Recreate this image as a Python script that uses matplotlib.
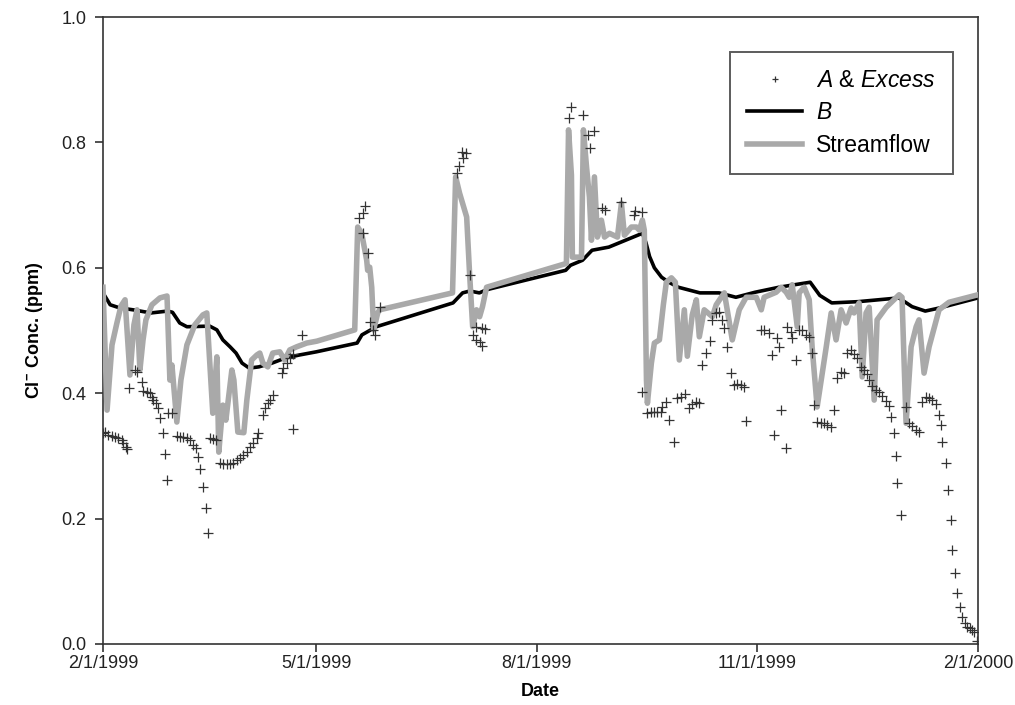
import numpy as np
import pandas as pd
import matplotlib
matplotlib.use("Agg")
import matplotlib.pyplot as plt

plt.rcParams['font.family'] = ['Liberation Sans', 'DejaVu Sans']
plt.rcParams['mathtext.fontset'] = 'custom'
plt.rcParams['mathtext.rm'] = 'Liberation Sans'
plt.rcParams['mathtext.it'] = 'Liberation Sans:italic'
plt.rcParams['mathtext.bf'] = 'Liberation Sans:bold'

# day offsets from 2/1/1999
b_days = [0, 3, 7, 12.5, 20, 27, 29, 32, 35, 44.5, 47.5, 50, 53, 55.5, 58, 61, 65, 70.5, 76, 82, 89,
          106, 108, 114, 146, 150, 153, 157, 160, 193, 195, 200, 204, 211, 218, 225, 226.5, 228,
          230, 233, 236, 240, 249, 257, 264, 272, 282, 295, 299, 304, 315, 332, 337.5, 343, 349, 365]
b_vals = [0.560, 0.541, 0.536, 0.533, 0.528, 0.531, 0.529, 0.512, 0.506, 0.507, 0.501, 0.485, 0.474,
          0.464, 0.448, 0.440, 0.442, 0.448, 0.456, 0.461, 0.466,
          0.480, 0.493, 0.506, 0.544, 0.560, 0.563, 0.560, 0.565, 0.596, 0.604, 0.612, 0.628, 0.633,
          0.644, 0.655, 0.640, 0.618, 0.600,
          0.585, 0.577, 0.569, 0.560, 0.560, 0.553, 0.561, 0.569, 0.577, 0.556, 0.544, 0.546, 0.552,
          0.538, 0.531, 0.536, 0.552]

s_days = [0, 1.7, 3.75, 5.8, 7.5, 9.2, 11.25, 12.9, 14.2, 15.4, 16.7, 17.9, 20.4, 23.75, 26.7,
          27.9, 28.75, 30.8, 32.5, 35, 38.3, 41.7, 43.3, 45.8, 47.5, 48.3, 50, 51.25, 53.75, 54.6,
          56.25, 58.75, 60, 62, 64.2, 65.4, 66.7, 68.75, 70.8, 73.75, 75.8, 77.9, 80.8, 85, 89.2,
          105, 106.25, 107.9, 110, 110.4, 111.25, 112.1, 112.9, 114.6, 115.4,
          145.8, 147.1, 148.75, 150, 151.7, 152.9, 154.2, 155.8, 157.1, 158.3, 160,
          193.3, 194.2, 195.4, 195.8, 199.6, 200.4, 201.7, 202.9, 203.75, 205, 206.25, 207.9,
          209.2, 211.25, 214.6, 216.25, 217.5, 220.4, 222.5, 223.75, 225, 225.8,
          226.7, 227.1, 228.75, 230, 232.1, 233.75, 235, 237.1, 238.75, 240.4, 242.5, 243.75,
          245.8, 247.5, 248.75, 250.8, 254.2, 255.8, 257.9, 259.2, 262.5, 265.4, 268.3, 272.5,
          274.6, 275.8, 280.8, 282.9, 285, 286.25, 287.5, 289.6, 290.4, 292.5, 294.6, 295.8,
          297.9, 299.6, 301.7, 303.75, 305.8, 307.9, 310, 312.1, 313.3, 315.4, 316.7, 318.3,
          319.6, 321.7, 322.9, 326.7, 332.1, 333.3, 335, 337.1, 339.2, 340.4, 342.5, 344.6,
          348.75, 352.9, 365]
s_vals = [0.569, 0.373, 0.477, 0.512, 0.539, 0.549, 0.429, 0.509, 0.533, 0.437, 0.485, 0.517,
          0.541, 0.552, 0.555,
          0.421, 0.445, 0.354, 0.421, 0.477, 0.509, 0.525, 0.528, 0.368, 0.458, 0.306, 0.381,
          0.357, 0.437, 0.421,
          0.338, 0.337, 0.389, 0.453, 0.461, 0.464, 0.448, 0.442, 0.464, 0.466, 0.453, 0.469,
          0.474, 0.480, 0.483,
          0.501, 0.665, 0.655, 0.612, 0.596, 0.601, 0.569, 0.501, 0.528, 0.533,
          0.560, 0.745, 0.719, 0.703, 0.681, 0.592, 0.506, 0.533, 0.522, 0.538, 0.569,
          0.607, 0.820, 0.748, 0.617, 0.617, 0.820, 0.761, 0.713, 0.644, 0.745, 0.649, 0.676,
          0.649, 0.655, 0.649, 0.703, 0.652, 0.665, 0.665, 0.660, 0.676, 0.660,
          0.421, 0.384, 0.448, 0.480, 0.485, 0.541, 0.577, 0.584, 0.577, 0.453, 0.533, 0.459,
          0.525, 0.549, 0.490, 0.533, 0.522, 0.541, 0.553, 0.560, 0.485, 0.533, 0.553, 0.553,
          0.533, 0.553, 0.561, 0.569, 0.561, 0.553, 0.573, 0.506, 0.560, 0.569, 0.549, 0.474,
          0.378, 0.421, 0.474, 0.528, 0.485, 0.533, 0.512, 0.536, 0.528, 0.544, 0.426, 0.528,
          0.537, 0.389, 0.517, 0.537, 0.557, 0.553, 0.352, 0.474, 0.506, 0.517, 0.432, 0.474,
          0.533, 0.545, 0.557]

a_days = [0, 1, 2.1, 3.75, 5, 6.25, 7.9, 8.3, 9.6, 10, 10.8, 13.3, 14.2, 16.25, 16.7, 18.3, 19.6,
          20.4, 20.8, 22.1, 22.9, 23.75, 25, 25.8, 26.7, 27.1, 28.75, 30.8, 32.1, 33.3, 35, 36.25,
          37.5, 38.75, 39.6, 40.4, 41.7, 42.9, 43.75, 44.6, 45.8, 47.1, 48.75, 50, 51.7, 52.9,
          54.2, 55.8, 57.1, 58.3, 60, 61.25, 62.5, 64.2, 64.6, 66.7, 67.5, 68.75, 69.6, 70.8,
          74.6, 75, 76.7, 77.9, 79.2, 79.2, 82.9,
          106.7, 108.3, 109.2, 108.3, 110.4, 111.25, 112.5, 113.3, 115.4,
          147.5, 148.3, 149.6, 150, 151.25, 152.9, 154.2, 155.8, 157.1, 158.3, 155.8, 157.9, 159.2,
          194.2, 195.4, 200.4, 202.5, 203.3, 205, 208.3, 209.6, 216.25, 221.7, 222.1, 225,
          225, 227.1, 228.75, 230, 231.25, 232.9, 233.3, 235, 236.25, 238.3, 239.6, 241.25, 242.9,
          244.6, 245.8, 247.5, 248.75, 250, 251.7, 253.3, 254.2, 255.8, 257.1, 258.3, 259.2,
          260.4, 262.1, 263.3, 264.6, 266.25, 267.5, 268.3, 274.6, 275.8, 277.9, 279.2, 280,
          281.25, 282.1, 282.9, 285, 285.4, 287.1, 287.5, 289.2, 290.4, 291.7, 293.3, 294.6,
          295.8, 296.7, 297.9, 299.6, 300.8, 302.1, 303.75, 305, 306.25, 307.9, 309.2, 310.4,
          312.1, 313.3, 314.6, 316.25, 317.5, 318.75, 319.6, 320.8, 322.5, 323.75, 325, 326.7,
          327.9, 328.75, 330, 330.8, 331.25, 332.9, 335, 336.25, 337.5, 339.2, 340.4, 341.7,
          343.3, 344.6, 345.8, 347.5, 348.75, 349.6, 350, 351.7, 352.5, 353.75, 354.2, 355.4,
          356.25, 357.5, 358.3, 359.6, 360.4, 361.7, 362.5, 363.3, 364.6]
a_vals = [0.336, 0.338, 0.333, 0.332, 0.330, 0.329, 0.325, 0.321, 0.314, 0.311, 0.408, 0.437,
          0.434, 0.418, 0.404, 0.402, 0.400, 0.394, 0.389, 0.384, 0.376, 0.360, 0.336, 0.303,
          0.262, 0.368, 0.368, 0.332, 0.330, 0.330, 0.329, 0.325, 0.317, 0.313, 0.298, 0.279,
          0.250, 0.217, 0.177, 0.329, 0.327, 0.325, 0.289, 0.287, 0.287, 0.287, 0.289, 0.293,
          0.297, 0.301, 0.306, 0.314, 0.321, 0.329, 0.336, 0.365, 0.376, 0.384, 0.389, 0.397,
          0.432, 0.440, 0.448, 0.456, 0.463, 0.343, 0.493,
          0.679, 0.687, 0.699, 0.655, 0.623, 0.514, 0.501, 0.493, 0.537,
          0.751, 0.762, 0.785, 0.775, 0.783, 0.589, 0.493, 0.485, 0.482, 0.475, 0.506, 0.504, 0.502,
          0.839, 0.857, 0.844, 0.812, 0.791, 0.818, 0.695, 0.692, 0.705, 0.684, 0.691, 0.689,
          0.402, 0.368, 0.370, 0.370, 0.370, 0.370, 0.378, 0.386, 0.357, 0.322, 0.392, 0.394, 0.399,
          0.376, 0.383, 0.386, 0.384, 0.445, 0.464, 0.483, 0.517, 0.528, 0.530, 0.517, 0.504,
          0.474, 0.432, 0.413, 0.415, 0.413, 0.410, 0.356, 0.501, 0.501, 0.496, 0.461, 0.333,
          0.488, 0.474, 0.373, 0.313, 0.506, 0.498, 0.488, 0.453, 0.501, 0.501, 0.493, 0.490,
          0.464, 0.381, 0.354, 0.352, 0.352, 0.349, 0.346, 0.373, 0.424, 0.434, 0.432, 0.464,
          0.469, 0.462, 0.456, 0.442, 0.437, 0.431, 0.421, 0.411, 0.405, 0.402, 0.396, 0.388,
          0.380, 0.362, 0.337, 0.300, 0.257, 0.206, 0.378, 0.352, 0.348, 0.341, 0.338, 0.386,
          0.394, 0.392, 0.389, 0.383, 0.365, 0.349, 0.322, 0.289, 0.246, 0.198, 0.150, 0.113,
          0.081, 0.059, 0.043, 0.034, 0.027, 0.025, 0.022, 0.019, 0.005]

tick_labels = ['2/1/1999', '5/1/1999', '8/1/1999', '11/1/1999', '2/1/2000']
tick_dates = ['1999-02-01', '1999-05-01', '1999-08-01', '1999-11-01', '2000-02-01']
y_ticks = [0.0, 0.2, 0.4, 0.6, 0.8, 1.0]

base = pd.Timestamp('1999-02-01')
def to_dates(days):
    return base + pd.to_timedelta(np.asarray(days, dtype=float), unit='D')

fig = plt.figure(figsize=(10.15, 7.05), dpi=100)
ax = fig.add_axes([103/1015, 1-644/705, 875/1015, 627/705])

ax.plot(to_dates(b_days), b_vals, color='black', lw=2.6, label='B', zorder=2)
ax.plot(to_dates(s_days), s_vals, color='#a9a9a9', lw=4.0, label='Streamflow', zorder=3,
        solid_joinstyle='round')
ax.plot(to_dates(a_days), a_vals, ls='none', marker='+', ms=7.5, mew=0.9, color='#333333',
        label='A & Excess', zorder=4)

ax.set_xlim(pd.Timestamp(tick_dates[0]), pd.Timestamp(tick_dates[-1]))
ax.set_ylim(0, 1.0)
ax.set_xticks([pd.Timestamp(d) for d in tick_dates])
ax.set_xticklabels(tick_labels)
ax.set_yticks(y_ticks)
ax.set_yticklabels([f'{v:.1f}' for v in y_ticks])
ax.tick_params(axis='both', labelsize=13, direction='out', length=6, width=1.1, colors='#222222')
ax.tick_params(axis='x', pad=2)
ax.tick_params(axis='y', pad=6)

for sp in ax.spines.values():
    sp.set_linewidth(1.2)
    sp.set_color('#333333')

ax.set_xlabel('Date', fontsize=13, fontweight='bold', labelpad=8)
ax.set_ylabel(r'Cl$^{\mathbf{-}}$ Conc. (ppm)', fontsize=13, fontweight='bold', labelpad=12)

h, l = ax.get_legend_handles_labels()
order = [2, 0, 1]
labels_fmt = [r'$\it{A}$ & $\it{Excess}$', r'$\it{B}$', 'Streamflow']
leg = ax.legend([h[i] for i in order], labels_fmt,
                loc='upper right', bbox_to_anchor=((953-103)/875, (644-52)/627),
                borderaxespad=0, fontsize=16.5, frameon=True, fancybox=False,
                edgecolor='#333333', handlelength=2.4, handletextpad=0.6,
                labelspacing=0.4, borderpad=0.75, markerscale=0.65)
leg.get_frame().set_linewidth(1.4)

fig.savefig('out.png', dpi=100)
